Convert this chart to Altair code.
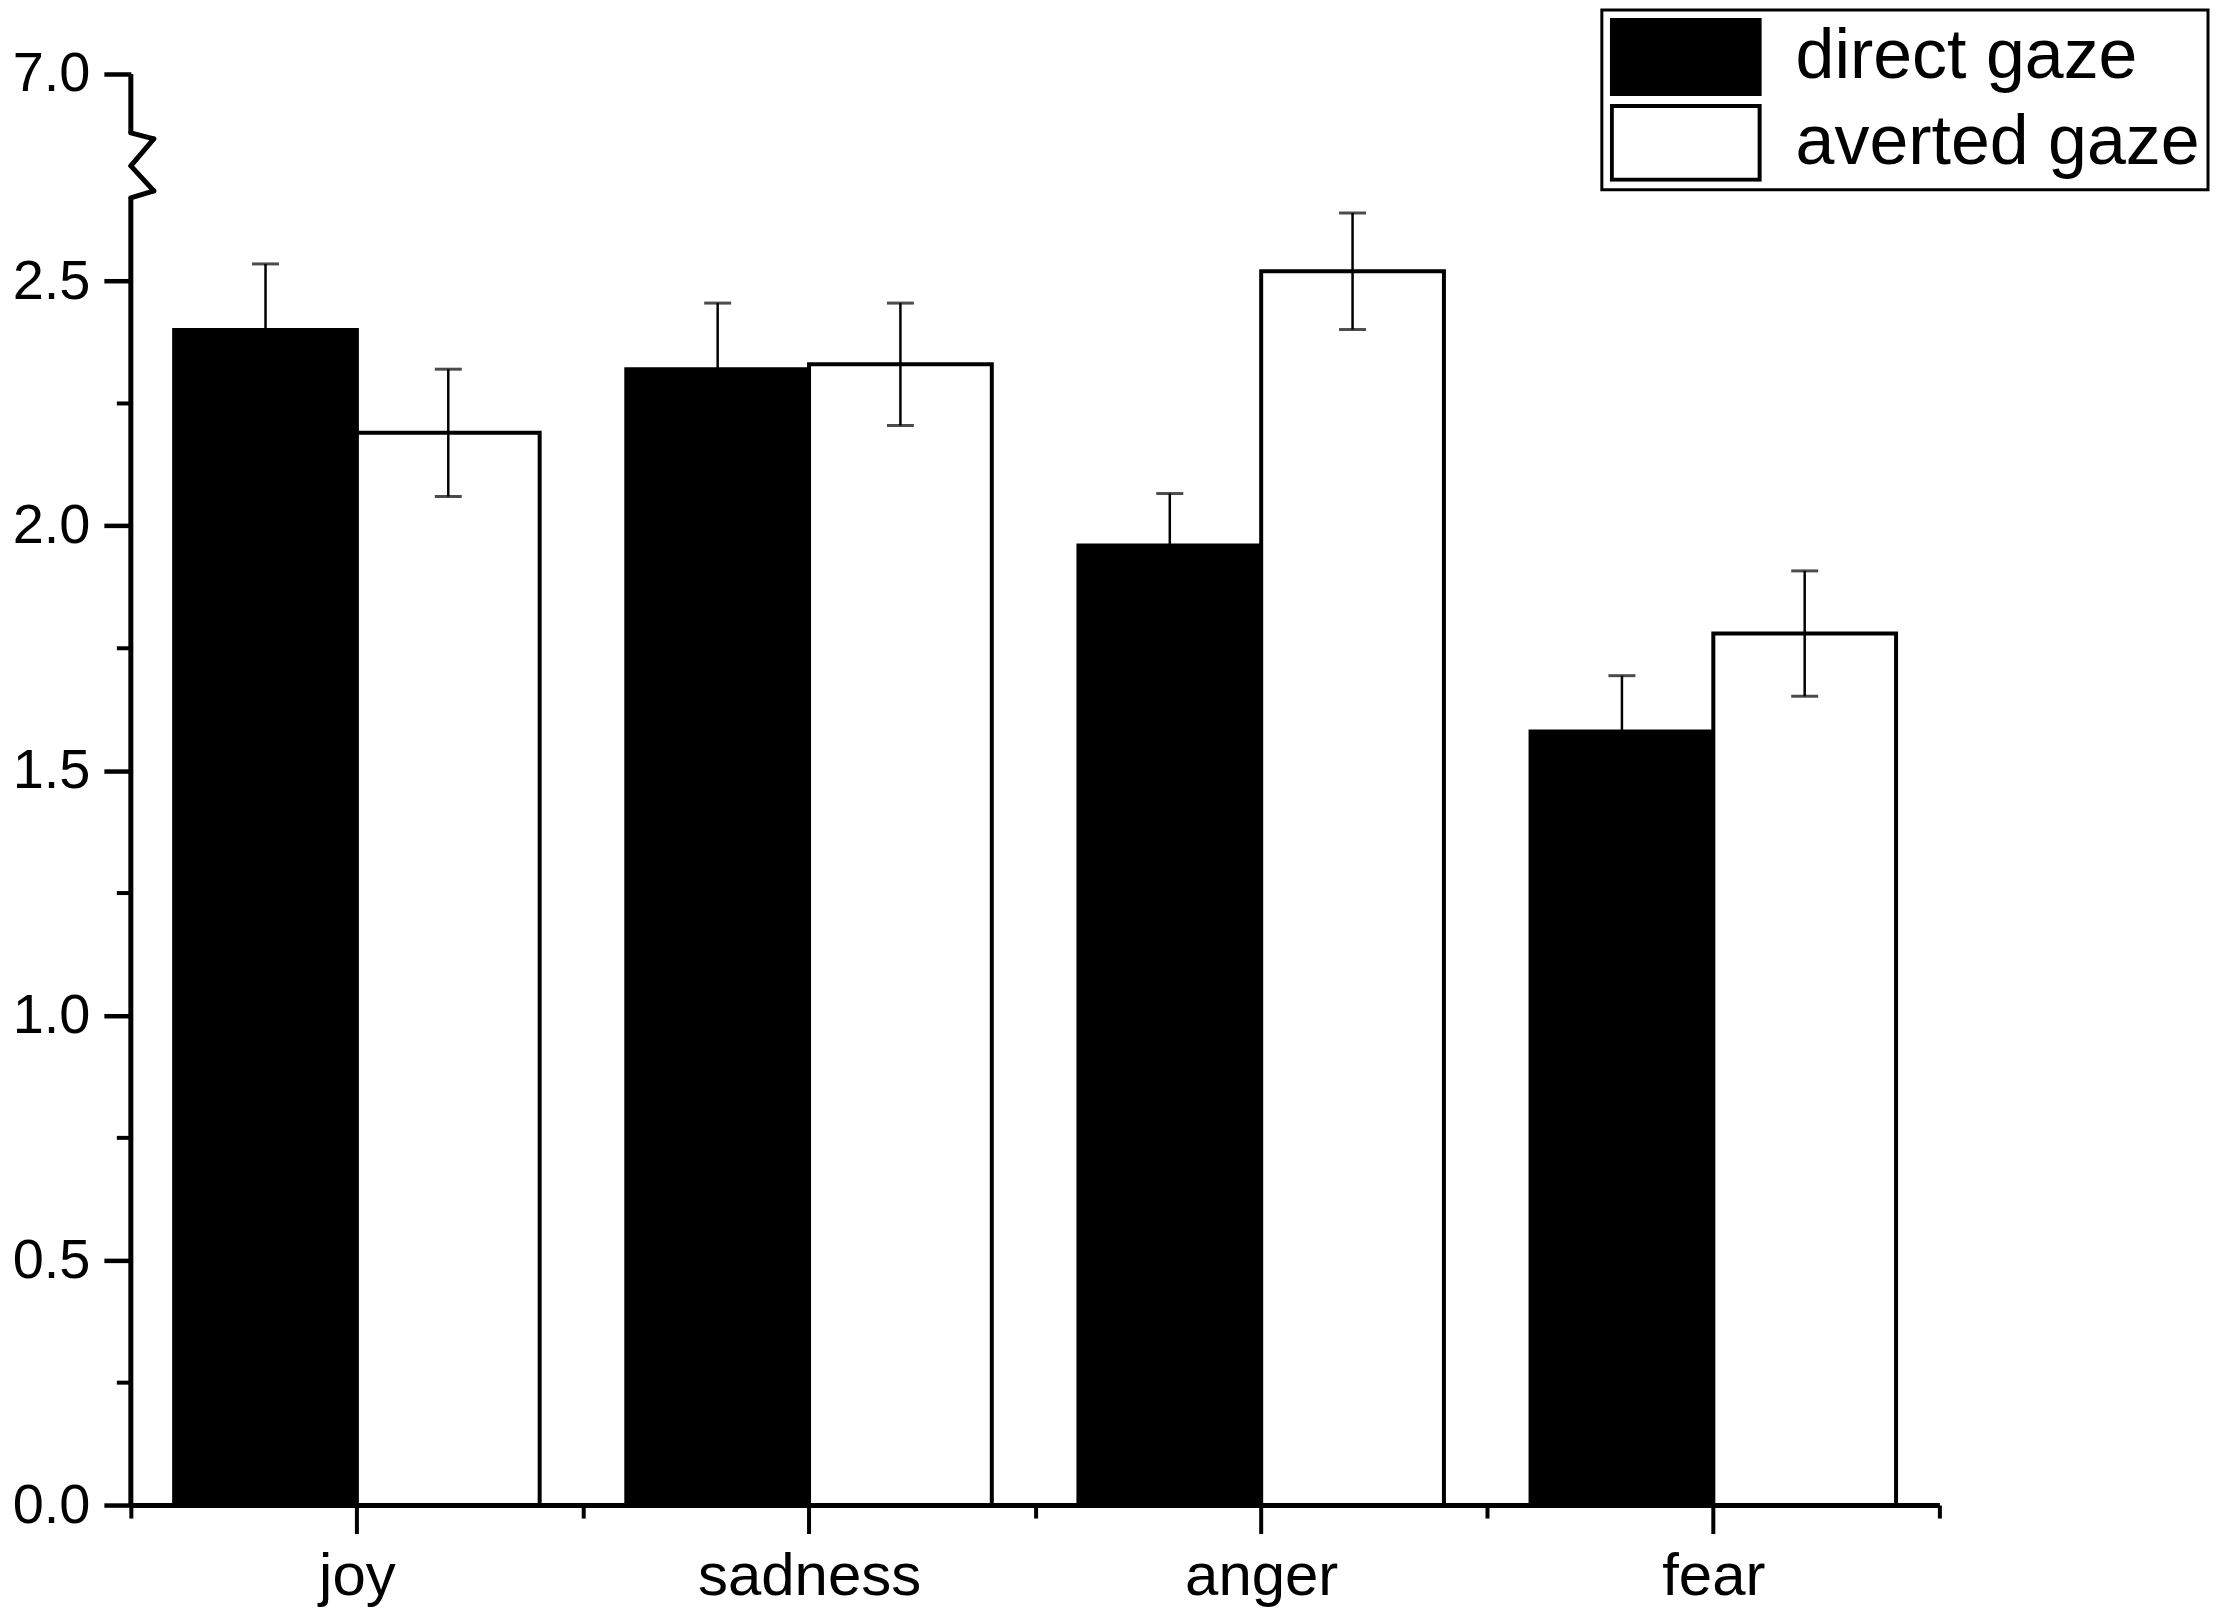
import altair as alt
import pandas as pd

# ---------------- data ----------------
emotions = ["joy", "sadness", "anger", "fear"]
gaze_levels = ["direct gaze", "averted gaze"]
direct_mean = [2.40, 2.32, 1.96, 1.58]
direct_se = [0.135, 0.135, 0.106, 0.114]
averted_mean = [2.19, 2.33, 2.52, 1.78]
averted_se = [0.13, 0.125, 0.119, 0.128]

y_major_ticks = [0.0, 0.5, 1.0, 1.5, 2.0, 2.5, 7.0]
y_minor_ticks = [0.25, 0.75, 1.25, 1.75, 2.25]

# broken y axis: lower part 0..break_low, upper part break_high..y_top
break_low = 2.67
break_high = 6.88
y_top = 7.0
zig_y_inner = [6.88, 4.743, 4.743, 2.67]   # zigzag vertices on the axis line
zig_y_outer = [6.491, 6.491, 3.123, 3.123]  # zigzag vertices out to the right

# ---------------- build table ----------------
rows = []
for i, e in enumerate(emotions):
    rows.append(dict(emotion=e, gaze="direct gaze", mean=direct_mean[i],
                     lo=direct_mean[i] - direct_se[i], hi=direct_mean[i] + direct_se[i]))
    rows.append(dict(emotion=e, gaze="averted gaze", mean=averted_mean[i],
                     lo=averted_mean[i] - averted_se[i], hi=averted_mean[i] + averted_se[i]))
df = pd.DataFrame(rows)

W = 1811
H = 1433
FONT = "Liberation Sans"

y_scale = alt.Scale(domain=[0, break_low, break_high, y_top], range=[H, 124, 59, 0],
                    nice=False, zero=False)
x_scale = alt.Scale(paddingInner=0, paddingOuter=0)

x_axis = alt.Axis(title=None, labelFont=FONT, labelFontSize=60, labelColor="black",
                  labelPadding=30, labelAngle=0, labelLimit=0, tickBand="extent", tickSize=13,
                  tickWidth=4, tickColor="black", domainColor="black", domainWidth=5,
                  grid=False)
y_axis = alt.Axis(title=None, values=y_major_ticks, format=".1f", labelFont=FONT,
                  labelFontSize=56, labelColor="black", labelPadding=14, tickSize=27,
                  tickWidth=4.5, tickColor="black", domain=False, grid=False)

X = lambda: alt.X("emotion:N", sort=emotions, scale=x_scale, axis=x_axis, title=None)
XO = lambda: alt.XOffset("gaze:N", sort=gaze_levels,
                         scale=alt.Scale(paddingInner=0, paddingOuter=0.237))

bars = alt.Chart(df).mark_bar(stroke="black", strokeWidth=4).encode(
    x=X(),
    xOffset=XO(),
    y=alt.Y("mean:Q", scale=y_scale, axis=y_axis, title=None),
    fill=alt.Fill("gaze:N", sort=gaze_levels,
                  scale=alt.Scale(domain=gaze_levels, range=["black", "white"]),
                  legend=alt.Legend(title=None, orient="none", legendX=1473, legendY=-64,
                                    direction="vertical",
                                    symbolType="M-1,-0.5H1V0.5H-1Z", symbolSize=21904,
                                    symbolStrokeColor="black", symbolStrokeWidth=4,
                                    labelFont=FONT, labelFontSize=70, labelColor="black",
                                    labelOffset=34, labelLimit=0, clipHeight=78,
                                    rowPadding=8, padding=8, strokeColor="black",
                                    fillColor="white")),
)

err = alt.Chart(df).mark_rule(color="black", strokeWidth=2.5).encode(
    x=X(), xOffset=XO(),
    y=alt.Y("lo:Q", scale=y_scale, axis=y_axis, title=None), y2="hi:Q",
)
cap_hi = alt.Chart(df).mark_tick(color="black", thickness=3, size=27).encode(
    x=X(), xOffset=XO(), y=alt.Y("hi:Q", scale=y_scale, axis=y_axis, title=None),
)
cap_lo = alt.Chart(df).mark_tick(color="black", thickness=3, size=27).encode(
    x=X(), xOffset=XO(), y=alt.Y("lo:Q", scale=y_scale, axis=y_axis, title=None),
)

# y axis line in two pieces plus the zigzag break
axis_pieces = pd.DataFrame({"y0": [0.0, break_high], "y1": [break_low, y_top]})
axis_lines = alt.Chart(axis_pieces).mark_rule(color="black", strokeWidth=5).encode(
    x=alt.value(0),
    y=alt.Y("y0:Q", scale=y_scale, axis=y_axis, title=None), y2="y1:Q",
)
zig = pd.DataFrame({"y_in": zig_y_inner, "y_out": zig_y_outer})
zig_lines = alt.Chart(zig).mark_rule(color="black", strokeWidth=5, strokeCap="round").encode(
    x=alt.value(0), x2=alt.value(23),
    y=alt.Y("y_in:Q", scale=y_scale, axis=y_axis, title=None), y2="y_out:Q",
)

# minor y ticks
minor_y = alt.Chart(pd.DataFrame({"v": y_minor_ticks})).mark_rule(
    color="black", strokeWidth=4).encode(
    x=alt.value(-14), x2=alt.value(0),
    y=alt.Y("v:Q", scale=y_scale, axis=y_axis, title=None),
)

# long x ticks at category centres
major_x = alt.Chart(pd.DataFrame({"emotion": emotions})).mark_rule(
    color="black", strokeWidth=4).encode(
    x=X(), y=alt.value(H), y2=alt.value(H + 29),
)

chart = alt.layer(bars, err, cap_hi, cap_lo, axis_lines, zig_lines, minor_y, major_x).properties(
    width=W, height=H,
    autosize=alt.AutoSizeParams(type="none"),
    padding={"left": 123, "top": 65, "right": 282, "bottom": 102},
    background="white",
).configure_view(stroke=None).configure_legend(strokeWidth=3)

chart.save("out.html", embed_options={"renderer": "svg", "actions": False})
